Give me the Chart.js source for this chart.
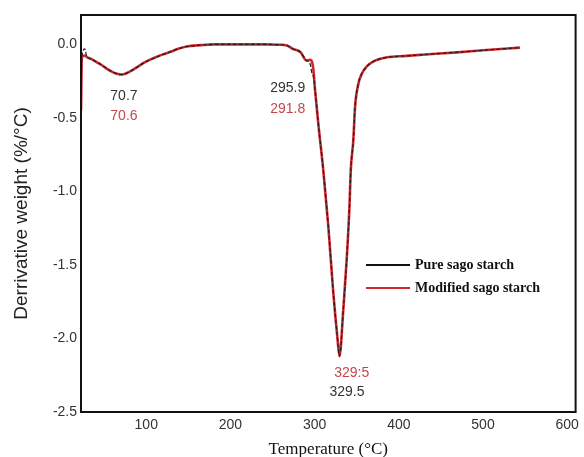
<!DOCTYPE html>
<html>
<head>
<meta charset="utf-8">
<script src="https://cdn.jsdelivr.net/npm/chart.js@4.4.1/dist/chart.umd.min.js"></script>
<style>
  html, body { margin: 0; padding: 0; background: #fff; }
  #wrap { width: 584px; height: 457px; }
</style>
</head>
<body>
<div id="wrap"><canvas id="dtg"></canvas></div>
<script>
// DTG data
const temps = [22.5, 23.5, 27, 29.5, 35, 41, 47, 53, 59, 65, 70.7, 77, 83, 90, 96, 104, 112, 120, 128, 138, 148, 165, 180, 210, 240, 258, 267, 274, 283, 290.6, 294.5, 297, 298.5, 300.5, 304.4, 310.3, 316.3, 322.2, 327, 329.5, 334, 338, 341.2, 343, 346, 348, 352, 356, 362, 370, 386, 409, 440, 469, 500, 544];
const pureValues = [-0.45, -0.09, -0.03, -0.086, -0.1, -0.12, -0.14, -0.165, -0.185, -0.199, -0.205, -0.195, -0.177, -0.152, -0.129, -0.105, -0.086, -0.068, -0.052, -0.03, -0.014, -0.005, 0, 0, 0, -0.002, -0.007, -0.03, -0.052, -0.11, -0.13, -0.2, -0.215, -0.31, -0.54, -0.856, -1.24, -1.69, -1.99, -2.12, -1.81, -1.47, -1.13, -0.85, -0.65, -0.426, -0.267, -0.2, -0.15, -0.115, -0.088, -0.078, -0.065, -0.054, -0.04, -0.022];
const modifiedValues = [-0.45, -0.09, -0.075, -0.086, -0.1, -0.12, -0.14, -0.165, -0.185, -0.199, -0.205, -0.195, -0.177, -0.152, -0.129, -0.105, -0.086, -0.068, -0.052, -0.03, -0.014, -0.005, 0, 0, 0, -0.002, -0.007, -0.03, -0.052, -0.11, -0.105, -0.12, -0.17, -0.31, -0.54, -0.856, -1.24, -1.69, -1.99, -2.12, -1.81, -1.47, -1.13, -0.85, -0.65, -0.426, -0.267, -0.2, -0.15, -0.115, -0.088, -0.078, -0.065, -0.054, -0.04, -0.022];

const seriesNames = ['Pure sago starch', 'Modified sago starch'];
const pureLabels = ['70.7', '295.9', '329.5'];
const modifiedLabels = ['70.6', '291.8', '329:5'];

const xTicks = [100, 200, 300, 400, 500, 600];
const yTicks = [0.0, -0.5, -1.0, -1.5, -2.0, -2.5];

const BLACK = '#1e1e1e';
const RED = '#d0282e';
const RED_TEXT = '#c4474a';

function toPoints(values) {
    return temps.map((t, i) => ({ x: t, y: values[i] }));
}

// frame round the plot area
const framePlugin = {
    id: 'frame',
    afterDraw(chart) {
        const a = chart.chartArea;
        const ctx = chart.ctx;
        ctx.save();
        ctx.strokeStyle = '#111';
        ctx.lineWidth = 2;
        ctx.strokeRect(a.left, a.top, a.right - a.left, a.bottom - a.top);
        ctx.restore();
    }
};

// in-plot legend, bold serif like the reference
const legendPlugin = {
    id: 'insideLegend',
    afterDraw(chart) {
        const a = chart.chartArea;
        const ctx = chart.ctx;
        const x0 = a.left + 285;
        const y0 = a.top + 250;
        ctx.save();
        ctx.font = 'bold 14px "Liberation Serif"';
        ctx.textBaseline = 'middle';
        chart.data.datasets.forEach((ds, i) => {
            const y = y0 + i * 23;
            ctx.strokeStyle = ds.legendColor;
            ctx.lineWidth = 2;
            ctx.beginPath();
            ctx.moveTo(x0, y);
            ctx.lineTo(x0 + 44, y);
            ctx.stroke();
            ctx.fillStyle = '#111';
            ctx.fillText(ds.label, x0 + 49, y);
        });
        ctx.restore();
    }
};

// peak temperature labels
const peakPlugin = {
    id: 'peaks',
    afterDatasetsDraw(chart) {
        const xs = chart.scales.x;
        const ys = chart.scales.y;
        const ctx = chart.ctx;
        const spots = [
            [pureLabels[0], 73.5, -0.353, '#333'],
            [modifiedLabels[0], 73.5, -0.49, RED_TEXT],
            [pureLabels[1], 268, -0.30, '#333'],
            [modifiedLabels[1], 268, -0.44, RED_TEXT],
            [modifiedLabels[2], 344, -2.235, RED_TEXT],
            [pureLabels[2], 338.5, -2.364, '#333']
        ];
        ctx.save();
        ctx.font = '14px "Liberation Sans"';
        ctx.textAlign = 'center';
        ctx.textBaseline = 'middle';
        spots.forEach(s => {
            ctx.fillStyle = s[3];
            ctx.fillText(s[0], xs.getPixelForValue(s[1]), ys.getPixelForValue(s[2]));
        });
        ctx.restore();
    }
};

new Chart(document.getElementById('dtg'), {
    type: 'line',
    data: {
        datasets: [{
            label: seriesNames[0],
            data: toPoints(pureValues),
            borderColor: BLACK,
            legendColor: '#111',
            borderWidth: 1.2,
            borderDash: [4, 2],
            pointRadius: 0,
            cubicInterpolationMode: 'monotone',
            fill: false
        }, {
            label: seriesNames[1],
            data: toPoints(modifiedValues),
            borderColor: RED,
            legendColor: RED,
            borderWidth: 2.6,
            pointRadius: 0,
            cubicInterpolationMode: 'monotone',
            fill: false
        }]
    },
    options: {
        responsive: true,
        maintainAspectRatio: false,
        animation: false,
        layout: { padding: { top: 15, right: 8, left: 0, bottom: 0 } },
        plugins: {
            legend: { display: false },
            tooltip: { enabled: false }
        },
        scales: {
            x: {
                type: 'linear',
                min: 22.5,
                max: 610,
                afterBuildTicks: s => { s.ticks = xTicks.map(v => ({ value: v })); },
                afterFit: s => { s.height = 45; },
                grid: { display: false, drawTicks: false },
                border: { display: false },
                ticks: {
                    padding: 5,
                    color: '#333',
                    font: { family: '"Liberation Sans"', size: 14 }
                },
                title: {
                    display: true,
                    text: 'Temperature (°C)',
                    color: '#111',
                    padding: { top: 0, bottom: -3 },
                    font: { family: '"Liberation Serif"', size: 17 }
                }
            },
            y: {
                type: 'linear',
                min: -2.5,
                max: 0.2,
                afterBuildTicks: s => { s.ticks = yTicks.map(v => ({ value: v })); },
                afterFit: s => { s.width = 81; },
                grid: { display: false, drawTicks: false },
                border: { display: false },
                ticks: {
                    padding: 4,
                    color: '#333',
                    font: { family: '"Liberation Sans"', size: 14 },
                    callback: v => v.toFixed(1)
                },
                title: {
                    display: true,
                    text: 'Derrivative weight (%/°C)',
                    color: '#222',
                    padding: { top: 10, bottom: 0 },
                    font: { family: '"Liberation Sans"', size: 19 }
                }
            }
        }
    },
    plugins: [framePlugin, legendPlugin, peakPlugin]
});
</script>
</body>
</html>
